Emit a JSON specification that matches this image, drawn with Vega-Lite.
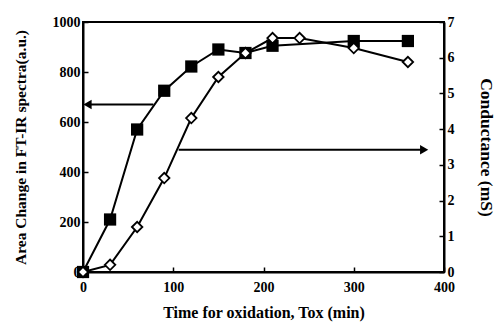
{
  "$schema": "https://vega.github.io/schema/vega-lite/v6.json",
  "width": 361,
  "height": 250,
  "autosize": {"type": "none"},
  "padding": {"left": 83, "top": 22, "right": 52, "bottom": 55},
  "background": "white",
  "config": {
    "view": {"stroke": "black", "strokeWidth": 2},
    "font": "Liberation Serif",
    "axis": {
      "labelFont": "Liberation Serif",
      "titleFont": "Liberation Serif",
      "labelFontWeight": "bold",
      "titleFontWeight": "bold",
      "labelFontSize": 14,
      "titleFontSize": 15,
      "labelColor": "black",
      "titleColor": "black",
      "domainColor": "black",
      "domainWidth": 2,
      "tickColor": "black",
      "tickWidth": 1.5,
      "grid": false,
      "labelOverlap": false,
      "labelFlush": false
    }
  },
  "datasets": {
    "area": [
      {"t": 0, "v": 0}, {"t": 30, "v": 210}, {"t": 60, "v": 570}, {"t": 90, "v": 725},
      {"t": 120, "v": 822}, {"t": 150, "v": 890}, {"t": 180, "v": 876}, {"t": 210, "v": 905},
      {"t": 300, "v": 924}, {"t": 360, "v": 924}
    ],
    "cond": [
      {"t": 0, "v": 0}, {"t": 30, "v": 0.2}, {"t": 60, "v": 1.26}, {"t": 90, "v": 2.63},
      {"t": 120, "v": 4.31}, {"t": 150, "v": 5.46}, {"t": 180, "v": 6.13}, {"t": 210, "v": 6.55},
      {"t": 240, "v": 6.55}, {"t": 300, "v": 6.27}, {"t": 360, "v": 5.88}
    ],
    "arrowL": [{"xs": 5, "xe": 78, "y": 670}],
    "arrowR": [{"xs": 106, "xe": 378, "y": 3.42}]
  },
  "resolve": {"scale": {"y": "independent"}},
  "layer": [
    {
      "layer": [
        {
          "data": {"name": "area"},
          "mark": {"type": "line", "color": "black", "strokeWidth": 2},
          "encoding": {
            "x": {"field": "t", "type": "quantitative", "scale": {"domain": [0, 400]},
              "axis": {"title": "Time for oxidation, Tox (min)", "values": [0, 100, 200, 300, 400], "format": "d", "tickSize": -5, "labelPadding": 13, "titlePadding": 10, "titleFontSize": 16}},
            "y": {"field": "v", "type": "quantitative", "scale": {"domain": [0, 1000]},
              "axis": {"title": "Area Change in FT-IR spectra(a.u.)", "values": [0, 200, 400, 600, 800, 1000], "format": "d", "tickSize": -5, "labelPadding": 8, "titlePadding": 24, "titleFontSize": 15.5}}
          }
        },
        {
          "data": {"name": "area"},
          "mark": {"type": "point", "shape": "square", "filled": true, "color": "black", "size": 150, "opacity": 1},
          "encoding": {
            "x": {"field": "t", "type": "quantitative"},
            "y": {"field": "v", "type": "quantitative"}
          }
        },
        {
          "data": {"name": "arrowL"},
          "mark": {"type": "rule", "color": "black", "strokeWidth": 2},
          "encoding": {
            "x": {"field": "xs", "type": "quantitative"},
            "x2": {"field": "xe"},
            "y": {"field": "y", "type": "quantitative"}
          }
        },
        {
          "data": {"name": "arrowL"},
          "mark": {"type": "point", "shape": "triangle-left", "filled": true, "color": "black", "size": 90, "opacity": 1},
          "encoding": {
            "x": {"field": "xs", "type": "quantitative"},
            "y": {"field": "y", "type": "quantitative"}
          }
        }
      ]
    },
    {
      "layer": [
        {
          "data": {"name": "cond"},
          "mark": {"type": "line", "color": "black", "strokeWidth": 2},
          "encoding": {
            "x": {"field": "t", "type": "quantitative"},
            "y": {"field": "v", "type": "quantitative", "scale": {"domain": [0, 7]},
              "axis": {"orient": "right", "title": "Conductance (mS)", "values": [0, 1, 2, 3, 4, 5, 6, 7], "format": "d", "tickSize": -5, "labelPadding": 8, "titlePadding": 22, "titleFontSize": 17.5}}
          }
        },
        {
          "data": {"name": "cond"},
          "mark": {"type": "point", "shape": "diamond", "filled": true, "fill": "white", "stroke": "black", "strokeWidth": 1.8, "size": 110, "opacity": 1},
          "encoding": {
            "x": {"field": "t", "type": "quantitative"},
            "y": {"field": "v", "type": "quantitative",
              "axis": {"orient": "right", "title": "Conductance (mS)", "values": [0, 1, 2, 3, 4, 5, 6, 7], "format": "d", "tickSize": -5, "labelPadding": 8, "titlePadding": 22, "titleFontSize": 17.5}}
          }
        },
        {
          "data": {"name": "arrowR"},
          "mark": {"type": "rule", "color": "black", "strokeWidth": 2},
          "encoding": {
            "x": {"field": "xs", "type": "quantitative"},
            "x2": {"field": "xe"},
            "y": {"field": "y", "type": "quantitative",
              "axis": {"orient": "right", "title": "Conductance (mS)", "values": [0, 1, 2, 3, 4, 5, 6, 7], "format": "d", "tickSize": -5, "labelPadding": 8, "titlePadding": 22, "titleFontSize": 17.5}}
          }
        },
        {
          "data": {"name": "arrowR"},
          "mark": {"type": "point", "shape": "triangle-right", "filled": true, "color": "black", "size": 90, "opacity": 1},
          "encoding": {
            "x": {"field": "xe", "type": "quantitative"},
            "y": {"field": "y", "type": "quantitative",
              "axis": {"orient": "right", "title": "Conductance (mS)", "values": [0, 1, 2, 3, 4, 5, 6, 7], "format": "d", "tickSize": -5, "labelPadding": 8, "titlePadding": 22, "titleFontSize": 17.5}}
          }
        }
      ]
    }
  ]
}
